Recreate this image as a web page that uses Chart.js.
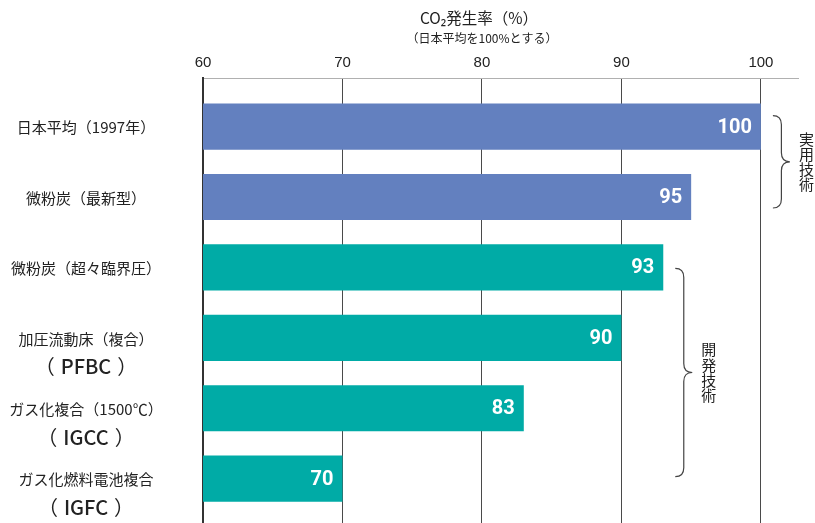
<!DOCTYPE html>
<html lang="ja">
<head>
<meta charset="utf-8">
<title>CO2発生率</title>
<script src="https://cdn.jsdelivr.net/npm/chart.js@4/dist/chart.umd.min.js"></script>
<style>
  html, body { margin: 0; padding: 0; background: #fff; }
  #wrap { width: 815px; height: 523px; position: relative; }
</style>
</head>
<body>
<div id="wrap"><canvas id="chart"></canvas></div>
<script>
// Power generation technologies (name, optional abbreviation)
const categories = [
  ['日本平均（1997年）'],
  ['微粉炭（最新型）'],
  ['微粉炭（超々臨界圧）'],
  ['加圧流動床（複合）', 'PFBC'],
  ['ガス化複合（1500℃）', 'IGCC'],
  ['ガス化燃料電池複合', 'IGFC']
];
// CO2 emission rate, Japan average = 100
const co2Rates = [100, 95, 93, 90, 83, 70];
const xTickValues = [60, 70, 80, 90, 100];
// Technology groups: indices of the first and last bar in each group
const groupLabels = ['実用技術', '開発技術'];
const groupRanges = [[0, 1], [2, 5]];

const COLOR_PRACTICAL = '#6380BF';
const COLOR_DEVELOPING = '#00ABA6';
const JP_FONT = '"Noto Sans CJK JP", "Noto Sans", sans-serif';

const points = co2Rates.map((v, i) => ({ x: v, y: i }));
const barColors = co2Rates.map((v, i) => (i < groupRanges[1][0] ? COLOR_PRACTICAL : COLOR_DEVELOPING));

// Title, category labels, value labels and group braces
const decorations = {
  id: 'decorations',
  afterDatasetsDraw(chart) {
    const ctx = chart.ctx;
    const xs = chart.scales.x;
    const ys = chart.scales.y;
    ctx.save();

    // title
    ctx.fillStyle = '#222';
    ctx.textAlign = 'center';
    ctx.textBaseline = 'middle';
    ctx.font = '15.5px ' + JP_FONT;
    ctx.fillText('CO₂発生率（%）', 479, 18);
    ctx.font = '12px ' + JP_FONT;
    ctx.fillText('（日本平均を100%とする）', 482, 38);

    // category labels
    const labelX = 86;
    categories.forEach((lines, i) => {
      const y = ys.getPixelForValue(i);
      ctx.fillStyle = '#222';
      ctx.textAlign = 'center';
      ctx.font = '15px ' + JP_FONT;
      ctx.fillText(lines[0], labelX, y + 1);
      if (lines[1]) {
        const y2 = y + 29;
        ctx.font = '500 20px ' + JP_FONT;
        const w = ctx.measureText(lines[1]).width;
        ctx.fillText(lines[1], labelX, y2);
        ctx.font = '20px ' + JP_FONT;
        ctx.textAlign = 'right';
        ctx.fillText('（', labelX - w / 2 - 6, y2);
        ctx.textAlign = 'left';
        ctx.fillText('）', labelX + w / 2 + 6, y2);
      }
    });

    // value labels inside the bar ends
    const meta = chart.getDatasetMeta(0);
    ctx.textAlign = 'right';
    ctx.fillStyle = '#fff';
    ctx.font = 'bold 20px Roboto, "Liberation Sans", sans-serif';
    meta.data.forEach((bar, i) => {
      ctx.fillText(String(co2Rates[i]), bar.x - 9, bar.y + 1);
    });

    // group braces with vertical captions
    const braceInsets = [[-11, 11], [1, -2]];
    groupRanges.forEach(([from, to], g) => {
      const maxVal = Math.max(...co2Rates.slice(from, to + 1));
      const x0 = xs.getPixelForValue(maxVal) + 12;
      const w = 8.5;
      const top = ys.getPixelForValue(from) + braceInsets[g][0];
      const bot = ys.getPixelForValue(to) + braceInsets[g][1];
      const mid = (top + bot) / 2;
      const r = 9;
      ctx.beginPath();
      ctx.moveTo(x0, top);
      ctx.quadraticCurveTo(x0 + w, top, x0 + w, top + r);
      ctx.lineTo(x0 + w, mid - r);
      ctx.quadraticCurveTo(x0 + w, mid, x0 + 2 * w, mid);
      ctx.quadraticCurveTo(x0 + w, mid, x0 + w, mid + r);
      ctx.lineTo(x0 + w, bot - r);
      ctx.quadraticCurveTo(x0 + w, bot, x0, bot);
      ctx.strokeStyle = '#444';
      ctx.lineWidth = 1.2;
      ctx.stroke();

      const chars = Array.from(groupLabels[g]);
      const step = 15.3;
      ctx.fillStyle = '#222';
      ctx.textAlign = 'center';
      ctx.font = '15px ' + JP_FONT;
      chars.forEach((c, k) => {
        const cy = mid + (k - (chars.length - 1) / 2) * step;
        ctx.fillText(c, x0 + 33.5, cy);
      });
    });

    ctx.restore();
  }
};

new Chart(document.getElementById('chart'), {
  type: 'bar',
  data: {
    datasets: [{
      data: points,
      backgroundColor: barColors,
      borderWidth: 0,
      categoryPercentage: 1,
      barPercentage: 0.655
    }]
  },
  options: {
    indexAxis: 'y',
    responsive: true,
    maintainAspectRatio: false,
    animation: false,
    layout: { padding: { top: 0, right: 17, bottom: 0, left: 0 } },
    plugins: {
      legend: { display: false },
      tooltip: { enabled: false }
    },
    scales: {
      x: {
        type: 'linear',
        position: 'top',
        min: 60,
        max: 102.66,
        afterBuildTicks(scale) {
          scale.ticks = xTickValues.map(v => ({ value: v }));
        },
        afterFit(scale) { scale.height = 78; },
        grid: { color: '#4a4a4a', lineWidth: 1, drawTicks: false },
        border: { display: true, color: '#b0b0b0', width: 1 },
        ticks: {
          color: '#222',
          padding: 6,
          font: { family: '"Liberation Sans", Arial, sans-serif', size: 15 }
        }
      },
      y: {
        type: 'linear',
        reverse: true,
        offset: false,
        min: -0.69,
        max: 5.63,
        afterBuildTicks(scale) {
          scale.ticks = categories.map((c, i) => ({ value: i }));
        },
        afterFit(scale) { scale.width = 203; },
        grid: { display: false },
        border: { display: true, color: '#333', width: 2 },
        ticks: { display: false }
      }
    }
  },
  plugins: [decorations]
});
</script>
</body>
</html>
